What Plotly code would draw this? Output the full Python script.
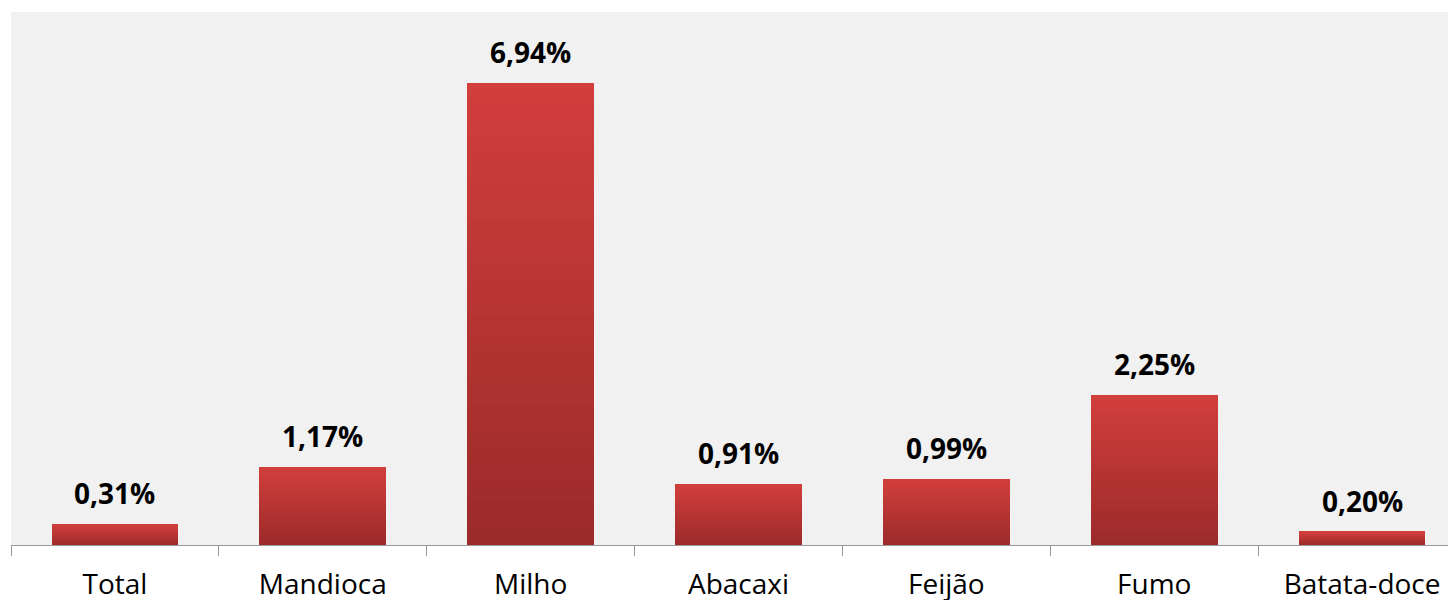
import plotly.graph_objects as go

categories = ["Total", "Mandioca", "Milho", "Abacaxi", "Feijão", "Fumo", "Batata-doce"]
values = [0.31, 1.17, 6.94, 0.91, 0.99, 2.25, 0.20]
labels = [f"{v:.2f}%".replace(".", ",") for v in values]

top_rgb = (209, 62, 60)
bot_rgb = (155, 43, 42)
N = 40
FONT = "Open Sans, sans-serif"

fig = go.Figure()
for i in range(N):
    t = i / (N - 1)
    c = tuple(round(bot_rgb[k] + (top_rgb[k] - bot_rgb[k]) * t) for k in range(3))
    fig.add_trace(go.Bar(
        x=categories, y=[v / N for v in values],
        marker=dict(color=f"rgb{c}", line=dict(width=0)),
        width=0.61, showlegend=False, hoverinfo="skip",
    ))

for cat, v, lab in zip(categories, values, labels):
    fig.add_annotation(
        x=cat, y=v, text=f"<b>{lab}</b>", showarrow=False,
        yanchor="middle", yshift=31,
        font=dict(family=FONT, size=28, color="#000000"),
    )

fig.update_layout(
    width=1448, height=600,
    barmode="stack", bargap=0,
    paper_bgcolor="#ffffff", plot_bgcolor="#f1f1f1",
    margin=dict(l=11, r=0, t=12, b=55, autoexpand=False),
    font=dict(family=FONT, size=28, color="#000000"),
    xaxis=dict(
        range=[-0.5, -0.5 + 7 * 1437 / 1455],
        showline=True, linecolor="#9a9a9a", linewidth=1.2,
        ticks="outside", tickson="boundaries", ticklen=10, tickcolor="#9a9a9a", tickwidth=1.2,
        showgrid=False, zeroline=False, ticklabelstandoff=14,
        tickfont=dict(size=28, family=FONT),
    ),
    yaxis=dict(range=[0, 8], visible=False, showgrid=False, zeroline=False),
)

fig.write_html("out.html", config={"displayModeBar": False},
               post_script="document.body.style.margin='0';document.body.style.overflow='hidden';")
